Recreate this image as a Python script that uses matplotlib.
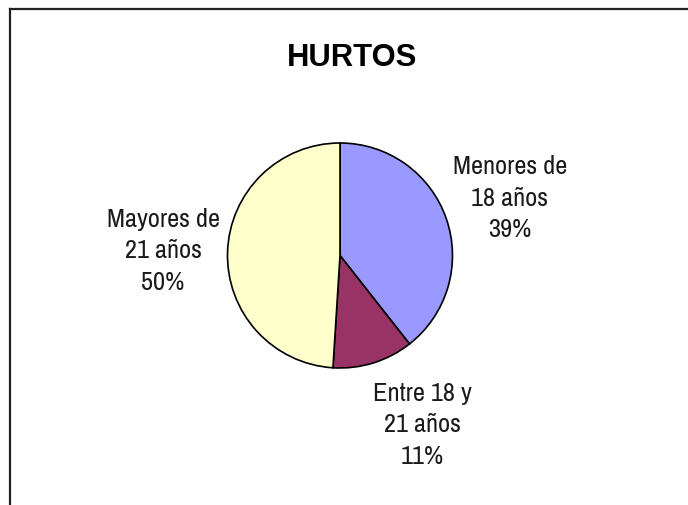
import matplotlib
matplotlib.use("Agg")
import matplotlib.pyplot as plt
from matplotlib.lines import Line2D

title = "HURTOS"
categories = ["Menores de\n18 años", "Entre 18 y\n21 años", "Mayores de\n21 años"]
values = [39.4, 11.6, 49.0]
pct_labels = ["39%", "11%", "50%"]
colors = ["#9999FF", "#993366", "#FFFFCC"]

W, H = 688, 506
fig = plt.figure(figsize=(W / 100, H / 100), dpi=100)
fig.patch.set_facecolor("white")

# chart frame (cropped: top and left edges visible)
fig.add_artist(Line2D([10 / W, 1.0], [1 - 10 / H, 1 - 10 / H], transform=fig.transFigure,
                      color="#222222", lw=1.6))
fig.add_artist(Line2D([10 / W, 10 / W], [0.0, 1 - 10 / H], transform=fig.transFigure,
                      color="#222222", lw=1.6))

cx, cy, r = 340, 256.5, 112.5
ax = fig.add_axes([(cx - r) / W, (H - cy - r) / H, 2 * r / W, 2 * r / H])
ax.pie(values, colors=colors, startangle=90, counterclock=False, radius=1,
       wedgeprops=dict(edgecolor="black", linewidth=1.2))
ax.set_xlim(-1, 1)
ax.set_ylim(-1, 1)
ax.set_aspect("equal")
ax.axis("off")

label_font = ["Archivo Narrow", "Roboto Condensed", "Liberation Sans", "DejaVu Sans"]
label_pos = [(510, 198), (422, 425), (163, 251)]
for cat, pct, (px, py) in zip(categories, pct_labels, label_pos):
    ax.text((px - cx) / r, (cy - py) / r, f"{cat}\n{pct}", ha="center", va="center",
            multialignment="center", fontsize=19, family=label_font, color="#1a1a1a",
            linespacing=1.43, clip_on=False)

fig.text(352 / W, 1 - 57.5 / H, title, ha="center", va="center", fontsize=22.3,
         fontweight="bold", family=["Liberation Sans", "DejaVu Sans"], color="black")

fig.savefig("out.png", dpi=100)
